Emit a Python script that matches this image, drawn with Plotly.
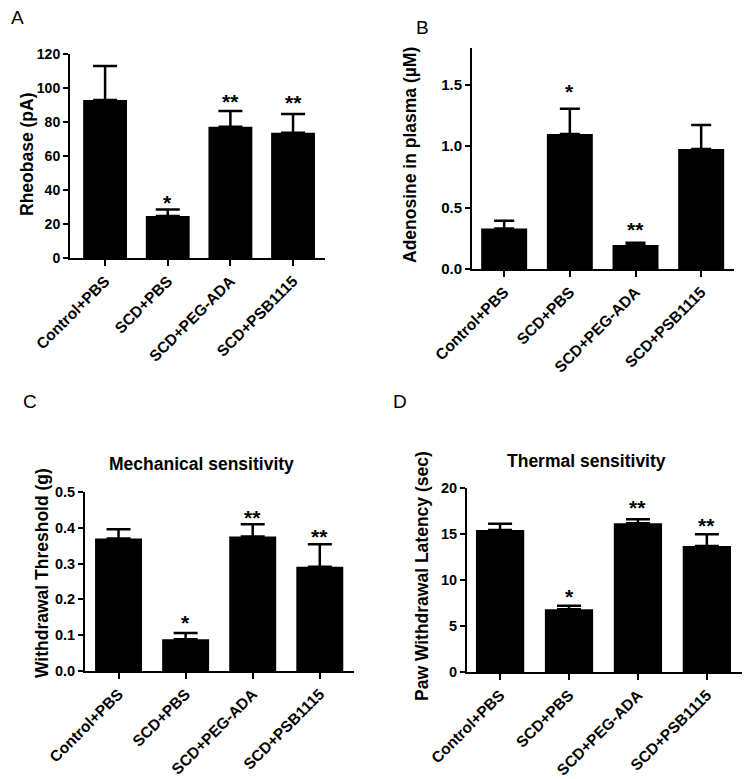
import plotly.graph_objects as go

# ---------------------------- DONNÉES ----------------------------- #
groupes = ["Control+PBS", "SCD+PBS", "SCD+PEG-ADA", "SCD+PSB1115"]

rheobase_moy = [92.9, 24.7, 77.2, 73.7]
rheobase_sem = [20.1, 3.9, 9.3, 11.0]
rheobase_sig = ["", "*", "**", "**"]

adenosine_moy = [0.33, 1.10, 0.196, 0.978]
adenosine_sem = [0.064, 0.206, 0.018, 0.195]
adenosine_sig = ["", "*", "**", ""]

mecanique_moy = [0.370, 0.089, 0.376, 0.291]
mecanique_sem = [0.026, 0.017, 0.034, 0.063]
mecanique_sig = ["", "*", "**", "**"]

thermique_moy = [15.43, 6.81, 16.16, 13.70]
thermique_sem = [0.69, 0.40, 0.44, 1.27]
thermique_sig = ["", "*", "**", "**"]

# La page HTML garde la marge par défaut du <body> (8 px) : on la compense
MARGE_BODY = 8
W, H = 751 - MARGE_BODY, 779 - MARGE_BODY
POLICE = "Liberation Sans, Arial, sans-serif"


def px_x(x):
    return (x - MARGE_BODY) / W


def px_y(y):
    return 1 - (y - MARGE_BODY) / H


fig = go.Figure()


def ajouter_panneau(idx, moy, sem, sig, dom_x, dom_y, y_range, dtick, tickformat,
                    y_titre, titre_pos, x_range, decalages, tick_size=14, cap=12):
    """Ajoute un panneau de barres noires avec barres d'erreur (SEM vers le haut)."""
    suffix = "" if idx == 1 else str(idx)
    xref, yref = "x" + suffix, "y" + suffix

    fig.add_trace(go.Bar(
        x=list(range(len(groupes))),
        y=moy,
        width=0.7,
        marker=dict(color="black", line=dict(width=0)),
        error_y=dict(type="data", symmetric=False, array=sem,
                     arrayminus=[0] * len(sem), color="black",
                     thickness=2.5, width=cap),
        xaxis=xref, yaxis=yref,
        showlegend=False,
    ))

    fig.update_layout({
        "xaxis" + suffix: dict(
            domain=[px_x(dom_x[0]), px_x(dom_x[1])],
            anchor=yref,
            range=x_range,
            tickvals=list(range(len(groupes))),
            ticktext=groupes,
            tickangle=-45,
            ticks="outside", ticklen=6, tickwidth=2, tickcolor="black",
            showline=True, linewidth=2, linecolor="black",
            showgrid=False, zeroline=False, automargin=False,
            tickfont=dict(family=POLICE, size=15.5, color="black", weight="bold"),
        ),
        "yaxis" + suffix: dict(
            domain=[px_y(dom_y[1]), px_y(dom_y[0])],
            anchor=xref,
            range=y_range,
            dtick=dtick,
            tickformat=tickformat,
            ticks="outside", ticklen=5, tickwidth=2, tickcolor="black",
            showline=True, linewidth=2, linecolor="black",
            showgrid=False, zeroline=False, automargin=False,
            tickfont=dict(family=POLICE, size=tick_size, color="black", weight="bold"),
        ),
    })

    # titre de l'axe Y (annotation verticale)
    fig.add_annotation(x=px_x(titre_pos[0]), y=px_y(titre_pos[1]),
                       xref="paper", yref="paper", text=y_titre, textangle=-90,
                       showarrow=False, xanchor="center", yanchor="middle",
                       font=dict(family=POLICE, size=17.5, color="black", weight="bold"))

    # astérisques de significativité (décalage vertical en px par barre)
    for i, s in enumerate(sig):
        if s:
            fig.add_annotation(
                x=i, y=moy[i] + sem[i], xref=xref, yref=yref,
                text=s, showarrow=False, yanchor="bottom", yshift=decalages[i],
                font=dict(family=POLICE, size=21, color="black", weight="bold"),
            )


ajouter_panneau(1, rheobase_moy, rheobase_sem, rheobase_sig,
                dom_x=(70, 325), dom_y=(54, 258), y_range=[0, 120], dtick=20, tickformat="d",
                y_titre="Rheobase (pA)", titre_pos=(27, 155), x_range=[-0.56, 3.51],
                decalages=[0, -7, -4, -2])
ajouter_panneau(2, adenosine_moy, adenosine_sem, adenosine_sig,
                dom_x=(472, 734), dom_y=(48, 269), y_range=[0, 1.8], dtick=0.5, tickformat=".1f",
                y_titre="Adenosine in plasma (µM)", titre_pos=(410, 155), x_range=[-0.49, 3.5],
                decalages=[0, 4, 0, 0], tick_size=15, cap=10)
ajouter_panneau(3, mecanique_moy, mecanique_sem, mecanique_sig,
                dom_x=(85, 354), dom_y=(492, 671), y_range=[0, 0.5], dtick=0.1, tickformat=".1f",
                y_titre="Withdrawal Threshold (g)", titre_pos=(42, 573), x_range=[-0.5, 3.51],
                decalages=[0, -3, -7, -6], tick_size=14.5)
ajouter_panneau(4, thermique_moy, thermique_sem, thermique_sig,
                dom_x=(467, 742), dom_y=(488, 672), y_range=[0, 20], dtick=5, tickformat="d",
                y_titre="Paw Withdrawal Latency (sec)", titre_pos=(422, 576), x_range=[-0.48, 3.51],
                decalages=[0, -4, -2, -5], tick_size=14.5)

# Lettres des panneaux
for lettre, (x, y) in {"A": (17, 18), "B": (422, 27), "C": (30, 401), "D": (400, 401)}.items():
    fig.add_annotation(x=px_x(x), y=px_y(y), xref="paper", yref="paper",
                       text=lettre, showarrow=False, xanchor="center", yanchor="middle",
                       borderpad=0,
                       font=dict(family=POLICE, size=19, color="black"))

# Titres des panneaux C et D
for titre, (x, y) in {"Mechanical sensitivity": (201, 464),
                      "Thermal sensitivity": (586, 461)}.items():
    fig.add_annotation(x=px_x(x), y=px_y(y), xref="paper", yref="paper",
                       text=titre, showarrow=False, xanchor="center", yanchor="middle",
                       font=dict(family=POLICE, size=17.5, color="black", weight="bold"))

fig.update_layout(
    width=W, height=H,
    margin=dict(l=0, r=0, t=0, b=0),
    paper_bgcolor="white",
    plot_bgcolor="white",
)

fig.write_html("out.html")
